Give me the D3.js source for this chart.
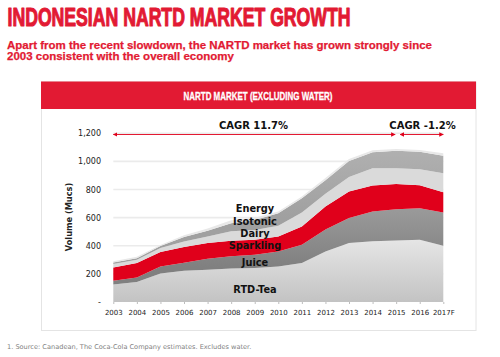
<!DOCTYPE html>
<html>
<head>
<meta charset="utf-8">
<script src="https://cdn.jsdelivr.net/npm/d3@7"></script>
<style>
  html, body { margin: 0; padding: 0; background: #fff; }
  svg { display: block; }
</style>
</head>
<body>
<svg id="chart" width="500" height="357"></svg>
<script>
// ---- data ----
const years = ["2003","2004","2005","2006","2007","2008","2009","2010","2011","2012","2013","2014","2015","2016","2017F"];
const rtdTea    = [125,142,203,222,229,238,241,253,277,360,419,432,438,442,400];
const juice     = [ 26, 33, 50, 57, 78, 88, 95,106,130,155,178,211,222,225,236];
const sparkling = [ 95,102,102,112,112,110,106,107,130,164,189,185,180,163,144];
const dairy     = [ 25, 23, 30, 39, 47, 67, 71, 76, 99, 91,104,124,112,115,136];
const isotonic  = [ 10, 12, 13, 32, 40, 58, 71, 90,102, 96,113,113,123,123,124];
const energy    = [  8, 10,  8, 13, 17, 21, 16, 11, 12, 16, 15, 15, 13, 14, 18];
const seriesNames = ["RTD-Tea","Juice","Sparkling","Dairy","Isotonic","Energy"];
const yTicks = [0,200,400,600,800,1000,1200];
const cagrLabels = ["CAGR 11.7%","CAGR -1.2%"];
const titleText = "INDONESIAN NARTD MARKET GROWTH";
const subtitleLines = ["Apart from the recent slowdown, the NARTD market has grown strongly since","2003 consistent with the overall economy"];
const panelTitle = "NARTD MARKET (EXCLUDING WATER)";
const yAxisTitle = "Volume (Mucs)";
const footnote = "1. Source: Canadean, The Coca-Cola Company estimates. Excludes water.";

// ---- build table ----
const seriesValues = [rtdTea, juice, sparkling, dairy, isotonic, energy];
const table = years.map((y, i) => {
  const row = { year: y };
  seriesNames.forEach((n, k) => row[n] = seriesValues[k][i]);
  return row;
});

const svg = d3.select("#chart");
const RED = "#e21a33";

// header texts
svg.append("text").attr("x", 7.5).attr("y", 26)
  .attr("font-family", "'Liberation Sans Narrow', 'Liberation Sans', sans-serif")
  .attr("font-weight", "bold").attr("font-size", 25).attr("fill", RED)
  .attr("stroke", RED).attr("stroke-width", 1.1).attr("stroke-linejoin", "round")
  .attr("textLength", 343).attr("lengthAdjust", "spacingAndGlyphs")
  .text(titleText);

subtitleLines.forEach((t, i) => {
  const el = svg.append("text").attr("x", 7).attr("y", 48.5 + i * 11.8)
    .attr("font-family", "'Liberation Sans', Arial, sans-serif")
    .attr("font-weight", "bold").attr("font-size", 11.5).attr("fill", RED)
    .attr("stroke", RED).attr("stroke-width", 0.25)
    .text(t);
  if (i === 0) el.attr("textLength", 425).attr("lengthAdjust", "spacingAndGlyphs");
});

// panel
svg.append("rect").attr("x", 41.5).attr("y", 82).attr("width", 434.5).attr("height", 248.5)
  .attr("fill", "#fff").attr("stroke", "#e4e4e4").attr("stroke-width", 1);
svg.append("rect").attr("x", 41).attr("y", 81.5).attr("width", 435).attr("height", 27.5)
  .attr("fill", RED);
svg.append("text").attr("x", 258).attr("y", 99.5).attr("text-anchor", "middle")
  .attr("font-family", "'Liberation Sans Narrow', 'Liberation Sans', sans-serif")
  .attr("font-weight", "bold").attr("font-size", 11).attr("fill", "#fff")
  .attr("stroke", "#fff").attr("stroke-width", 0.3)
  .attr("textLength", 149).attr("lengthAdjust", "spacingAndGlyphs")
  .text(panelTitle);

// scales
const x = d3.scalePoint().domain(years).range([113.3, 443.3]);
const y = d3.scaleLinear().domain([0, 1200]).range([302, 133.3]);

// gridlines
svg.append("g").selectAll("line").data(yTicks.filter(d => d > 0)).join("line")
  .attr("x1", x.range()[0]).attr("x2", x.range()[1])
  .attr("y1", d => y(d)).attr("y2", d => y(d))
  .attr("stroke", "#ebebeb").attr("stroke-width", 1.6);

// gradients
const defs = svg.append("defs");
function grad(id, top, bottom, y1, y2) {
  const g = defs.append("linearGradient").attr("id", id)
    .attr("gradientUnits", "userSpaceOnUse")
    .attr("x1", 0).attr("x2", 0).attr("y1", y1).attr("y2", y2);
  g.append("stop").attr("offset", 0).attr("stop-color", top);
  g.append("stop").attr("offset", 1).attr("stop-color", bottom);
}
grad("gRtd", "#e6e6e6", "#c3c3c3", y(450), y(0));
grad("gJuice", "#999999", "#808080", y(650), y(250));
grad("gIso", "#b0b0b0", "#a0a0a0", y(1080), y(600));
const fills = {
  "RTD-Tea": "url(#gRtd)",
  "Juice": "url(#gJuice)",
  "Sparkling": "#e0001b",
  "Dairy": "#dadada",
  "Isotonic": "url(#gIso)",
  "Energy": "#e8e8e8"
};

const stack = d3.stack().keys(seriesNames);
const layers = stack(table);
const area = d3.area()
  .x(d => x(d.data.year))
  .y0(d => y(d[0]))
  .y1(d => y(d[1]));

svg.append("g").selectAll("path").data(layers).join("path")
  .attr("d", area)
  .attr("fill", d => fills[d.key]);

// y axis
const yAxis = d3.axisLeft(y).tickValues(yTicks)
  .tickFormat(d => d === 0 ? "-" : d3.format(",")(d))
  .tickSize(0).tickPadding(0);
const gy = svg.append("g").attr("transform", "translate(101,0)").call(yAxis);
gy.select(".domain").remove();
gy.selectAll("text").attr("font-family", "'DejaVu Sans', Verdana, sans-serif")
  .attr("font-size", 8).attr("fill", "#222");

// x axis
const xAxis = d3.axisBottom(x).tickSize(2).tickPadding(6);
const gx = svg.append("g").attr("transform", `translate(0,${y(0)})`).call(xAxis);
gx.select(".domain").remove();
gx.selectAll("line").attr("stroke", "#bdbdbd");
gx.selectAll("text").attr("font-family", "'DejaVu Sans', Verdana, sans-serif")
  .attr("font-size", 7).attr("fill", "#222");

// y axis title
svg.append("text")
  .attr("transform", "translate(72,217) rotate(-90)")
  .attr("text-anchor", "middle")
  .attr("font-family", "'DejaVu Sans', Verdana, sans-serif")
  .attr("font-weight", "bold").attr("font-size", 8.2).attr("fill", "#222")
  .text(yAxisTitle);

// series labels
const labelPos = {
  "Energy": 211.5, "Isotonic": 225, "Dairy": 236.5,
  "Sparkling": 248.5, "Juice": 266, "RTD-Tea": 292.5
};
svg.append("g").selectAll("text").data(seriesNames).join("text")
  .attr("x", 255).attr("y", d => labelPos[d])
  .attr("text-anchor", "middle")
  .attr("font-family", "'DejaVu Sans', Verdana, sans-serif")
  .attr("font-weight", "bold").attr("font-size", 9.8).attr("fill", "#111")
  .text(d => d);

// CAGR arrows
defs.append("marker").attr("id", "arr").attr("viewBox", "0 0 10 10")
  .attr("refX", 9).attr("refY", 5).attr("markerWidth", 5).attr("markerHeight", 5)
  .attr("orient", "auto-start-reverse")
  .append("path").attr("d", "M0,0 L10,5 L0,10 z").attr("fill", "#e0001b");
const arrowY = 134.5;
const spans = [[x("2003"), x("2015") - 1], [x("2015") + 4, x("2017F")]];
spans.forEach((s) => {
  svg.append("line").attr("x1", s[0]).attr("x2", s[1])
    .attr("y1", arrowY).attr("y2", arrowY)
    .attr("stroke", "#e0001b").attr("stroke-width", 0.9)
    .attr("marker-start", "url(#arr)").attr("marker-end", "url(#arr)");
});
const cagrX = [253.5, 422.5];
cagrLabels.forEach((t, i) => {
  svg.append("text").attr("x", cagrX[i]).attr("y", 129)
    .attr("text-anchor", "middle")
    .attr("font-family", "'DejaVu Sans', Verdana, sans-serif")
    .attr("font-weight", "bold").attr("font-size", 10).attr("fill", "#111")
    .text(t);
});

// footnote
svg.append("text").attr("x", 7).attr("y", 348.5)
  .attr("font-family", "'DejaVu Sans', Verdana, sans-serif")
  .attr("font-size", 6.6).attr("fill", "#7f7f7f")
  .text(footnote);
</script>
</body>
</html>
